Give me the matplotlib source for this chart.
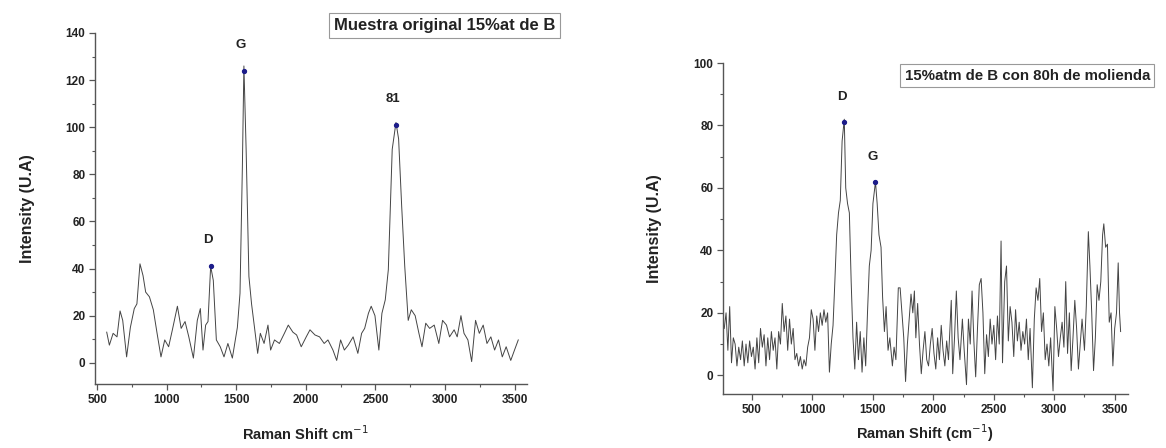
import numpy as np
import matplotlib
matplotlib.use("Agg")
import matplotlib.pyplot as plt
from matplotlib.ticker import MultipleLocator

plt.rcParams["font.family"] = ["Liberation Sans", "DejaVu Sans"]

# Espectro Raman de la muestra original (15%at de B)
left_shift = [569, 588, 615, 643, 665, 684, 712, 739, 767, 786, 808, 830, 849, 876, 904,
              931, 959, 986, 1014, 1041, 1077, 1104, 1132, 1159, 1192, 1220, 1242, 1261,
              1280, 1297, 1316, 1335, 1357, 1385, 1412, 1440, 1472, 1508, 1527, 1544, 1555,
              1571, 1591, 1610, 1632, 1654, 1673, 1700, 1728, 1747, 1775, 1810, 1846, 1874,
              1907, 1934, 1967, 2003, 2030, 2066, 2099, 2132, 2159, 2195, 2222, 2250, 2277,
              2305, 2340, 2374, 2401, 2423, 2450, 2470, 2497, 2525, 2547, 2571, 2593, 2621,
              2648, 2667, 2689, 2711, 2736, 2758, 2786, 2813, 2835, 2862, 2890, 2923, 2956,
              2983, 3011, 3033, 3066, 3088, 3115, 3137, 3165, 3192, 3220, 3247, 3275, 3302,
              3330, 3357, 3385, 3412, 3440, 3473, 3500, 3527]
left_intensity = [13, 7.5, 12.5, 11, 22, 18, 2.5, 15, 23, 25, 42, 37, 30, 28, 22.5,
                  12.5, 2.5, 9.7, 6.8, 14, 24, 14.6, 17.5, 11, 2, 18, 23, 5.4,
                  16, 17.5, 41, 35, 9.7, 6.8, 2.5, 8.2, 2, 15, 29.5, 83, 126,
                  90.6, 36.7, 25, 14.6, 4, 12.5, 8.2, 16, 5.4, 9.7, 8.2, 12.5, 16,
                  13, 11.8, 6.8, 11, 14, 11.8, 11, 8.2, 9.7, 5.4, 1, 9.7, 5.4,
                  7.5, 11, 4, 12.5, 14.6, 21, 24, 20, 5.4, 21, 26.7, 39.5, 90.6,
                  102, 95, 66.5, 41, 18, 22.5, 20, 12.5, 6.8, 16.8, 14.6, 16, 8.2,
                  18, 16, 11, 14, 11, 20, 12.5, 9.7, 0.5, 18, 12.5, 16, 8.2,
                  11, 5.4, 9.7, 2.5, 6.8, 1, 5.4, 9.7]
left_peak_names = ["D", "G", "81"]
left_peak_shift = [1316, 1555, 2648]
left_peak_intensity = [41, 124, 101]

# Espectro Raman tras 80h de molienda
right_shift = [270, 285, 300, 315, 330, 345, 360, 375, 390, 405, 420, 435, 450, 465, 480,
               495, 510, 525, 540, 555, 570, 585, 600, 615, 630, 645, 660, 675, 690, 705,
               720, 735, 750, 765, 780, 795, 810, 825, 840, 855, 870, 885, 900, 915, 930,
               945, 960, 975, 990, 1005, 1020, 1035, 1050, 1065, 1080, 1095, 1110, 1125,
               1140, 1155, 1170, 1185, 1200, 1215, 1230, 1245, 1263, 1275, 1290, 1305,
               1320, 1335, 1350, 1365, 1380, 1395, 1410, 1425, 1440, 1455, 1470, 1485,
               1500, 1521, 1535, 1550, 1567, 1580, 1595, 1609, 1625, 1640, 1661, 1675,
               1690, 1710, 1725, 1740, 1755, 1770, 1785, 1800, 1815, 1830, 1843, 1855,
               1870, 1885, 1900, 1915, 1930, 1945, 1960, 1975, 1990, 2005, 2020, 2035,
               2050, 2065, 2080, 2095, 2110, 2125, 2148, 2160, 2175, 2190, 2205, 2220,
               2240, 2255, 2274, 2290, 2305, 2320, 2335, 2350, 2365, 2380, 2395, 2410,
               2425, 2440, 2455, 2470, 2485, 2500, 2515, 2530, 2545, 2560, 2572, 2590,
               2605, 2620, 2635, 2650, 2665, 2680, 2695, 2710, 2725, 2740, 2755, 2770,
               2785, 2800, 2819, 2835, 2850, 2865, 2880, 2895, 2910, 2925, 2940, 2955,
               2970, 2990, 3005, 3020, 3035, 3050, 3065, 3080, 3095, 3110, 3125, 3140,
               3155, 3170, 3185, 3200, 3215, 3230, 3250, 3265, 3282, 3295, 3310, 3325,
               3340, 3355, 3370, 3385, 3400, 3410, 3425, 3440, 3455, 3470, 3485, 3500,
               3515, 3529, 3540, 3549]
right_intensity = [15, 20, 8, 22, 4, 12, 10, 3, 9, 5, 11, 3, 10, 4, 11,
                   6, 9, 2, 12, 4, 15, 9, 13, 3, 12, 5, 14, 8, 12, 2,
                   14, 10, 23, 14, 19, 8, 18, 10, 15, 5, 7, 3, 6, 2, 5,
                   3, 9, 12, 21, 18, 8, 19, 14, 20, 16, 21, 17, 20,
                   1, 10, 16, 30, 45, 52, 56, 75, 82, 60, 55, 52,
                   30, 12, 2, 17, 5, 14, 1, 12, 3, 20, 35, 40,
                   55, 62, 55, 45, 41, 25, 14, 22, 8, 12, 3, 9,
                   5, 28, 28, 20, 12, -2, 10, 18, 26, 20, 27, 12,
                   23, 10, 0.5, 8, 14, 5, 3, 10, 15, 7, 2, 12,
                   5, 16, 8, 3, 11, 5, 24, 0.5, 12, 27, 12, 5,
                   18, 8, -3, 18, 10, 27, 11, -0.5, 15, 29, 31, 20,
                   0.5, 13, 6, 18, 10, 16, 5, 19, 10, 43, 4, 30,
                   35, 11, 22, 17, 6, 21, 11, 17, 8, 14, 10, 18,
                   5, 15, -4, 18, 28, 24, 31, 14, 20, 5, 10, 3,
                   12, -5, 22, 15, 6, 12, 17, 9, 30, 7, 20, 1.5,
                   12, 24, 15, 2, 10, 18, 8, 22, 46, 35, 20, 1.5,
                   12, 29, 24, 30, 45, 48.5, 41, 42, 17, 20, 3, 15,
                   20, 36, 20, 14]
right_peak_names = ["D", "G"]
right_peak_shift = [1263, 1521]
right_peak_intensity = [81, 62]

line_color = "#444444"
axis_color = "#555555"
text_color = "#222222"


def style_axes(ax, ymax):
    for side in ["top", "right"]:
        ax.spines[side].set_visible(False)
    for side in ["left", "bottom"]:
        ax.spines[side].set_color(axis_color)
        ax.spines[side].set_linewidth(1.0)
    ax.xaxis.set_major_locator(MultipleLocator(500))
    ax.xaxis.set_minor_locator(MultipleLocator(250))
    ax.yaxis.set_major_locator(MultipleLocator(20))
    ax.yaxis.set_minor_locator(MultipleLocator(10))
    ax.tick_params(which="major", direction="out", length=4, width=0.9,
                   color=axis_color, labelsize=8.5, labelcolor=text_color, pad=3)
    ax.tick_params(which="minor", direction="out", length=2.5, width=0.8, color=axis_color)
    ax.set_yticks(np.arange(0, ymax + 1, 20))
    for lab in ax.get_xticklabels() + ax.get_yticklabels():
        lab.set_fontweight("bold")


def mark_peaks(ax, names, xs, ys, dy):
    ax.plot(xs, ys, "o", color="#1c1c8a", ms=2.8, zorder=3)
    for name, x, y in zip(names, xs, ys):
        ax.text(x - 20, y + dy, name, ha="center", va="center", fontsize=9.5,
                fontweight="bold", color=text_color)


fig = plt.figure(figsize=(11.66, 4.48), dpi=100)

# Panel izquierdo
ax1 = fig.add_axes([0.0815, 0.1429, 0.3705, 0.7835])
ax1.plot(left_shift, left_intensity, color=line_color, lw=0.7)
ax1.set_xlim(485, 3590)
ax1.set_ylim(-9, 140)
style_axes(ax1, 140)
mark_peaks(ax1, left_peak_names, left_peak_shift, left_peak_intensity, 11)
ax1.set_xlabel("Raman Shift cm$^{-1}$", fontsize=10.5, fontweight="bold", color=text_color)
ax1.set_ylabel("Intensity (U.A)", fontsize=11.5, fontweight="bold", color=text_color)
ax1.xaxis.set_label_coords(0.486, -0.115)
ax1.yaxis.set_label_coords(-0.14, 0.5)
fig.text(0.381, 0.944, "Muestra original 15%at de B", ha="center", va="center",
         fontsize=12, fontweight="bold", color=text_color,
         bbox=dict(boxstyle="square,pad=0.3", fc="white", ec="#999999", lw=0.8))

# Panel derecho
ax2 = fig.add_axes([0.6201, 0.1205, 0.3473, 0.7388])
ax2.plot(right_shift, right_intensity, color=line_color, lw=0.7)
ax2.set_xlim(260, 3610)
ax2.set_ylim(-6, 100)
style_axes(ax2, 100)
mark_peaks(ax2, right_peak_names, right_peak_shift, right_peak_intensity, 8)
ax2.set_xlabel("Raman Shift (cm$^{-1}$)", fontsize=10.5, fontweight="bold", color=text_color)
ax2.set_ylabel("Intensity (U.A)", fontsize=11.5, fontweight="bold", color=text_color)
ax2.xaxis.set_label_coords(0.499, -0.085)
ax2.yaxis.set_label_coords(-0.15, 0.5)
fig.text(0.881, 0.831, "15%atm de B con 80h de molienda", ha="center", va="center",
         fontsize=10.8, fontweight="bold", color=text_color,
         bbox=dict(boxstyle="square,pad=0.3", fc="white", ec="#999999", lw=0.8))

fig.savefig("out.png", dpi=100, facecolor="white")
